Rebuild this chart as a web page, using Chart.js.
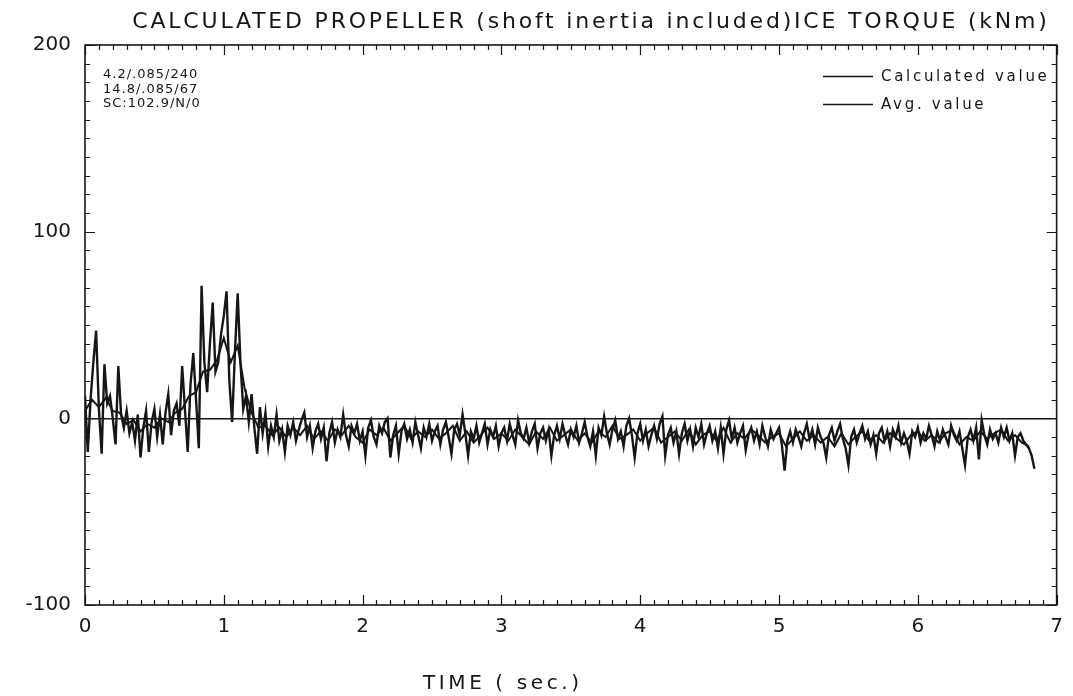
<!DOCTYPE html>
<html>
<head>
<meta charset="utf-8">
<title>Ice torque</title>
<script src="https://cdn.jsdelivr.net/npm/chart.js@4/dist/chart.umd.min.js"></script>
<style>
html, body { margin: 0; padding: 0; background: #fff; }
#wrap { width: 1073px; height: 696px; position: relative; }
</style>
</head>
<body>
<div id="wrap"><canvas id="torque"></canvas></div>
<script>
// propeller ice torque, kNm, sampled every calcStep / avgStep seconds
var calcStep = 0.02;
var calcValue = [
  12, -18, 10, 30, 47, 5, -19, 29, 8, 12,
  0, -14, 28, 2, -5, 4, -8, -2, -12, 2,
  -21, -5, 4, -18, -2, 5, -10, 2, -14, 3,
  13, -9, 4, 8, -4, 28, 5, -18, 18, 35,
  10, -16, 71, 30, 14, 40, 62, 25, 30, 45,
  55, 68, 20, -2, 35, 67, 30, 5, 12, -2,
  13, -5, -19, 6, -8, 3, -15, -4, -10, 2,
  -12,
  -6, -18, -4, -9, -2, -12, -6, -1, 3, -10,
  -4, -16, -7, -3, -11, -5, -23, -8, -2, -13,
  -6, -10, 2, -9, -15, -4, -8, -3, -12, -7,
  -20, -5, -1, -10, -14, -4, -8, -2, 0, -21,
  -9, -4, -19, -7, -3, -11, -6, -13, -2, -9,
  -16, -5, -10, -3, -12, -7, -4, -14, -6, -2,
  -10, -19, -6, -3, -9, 2, -8, -20, -7, -11,
  -4, -13, -8, -3, -14, -6, -10, -4, -15, -8,
  -5, -12, -3, -9, -14, -1, -8, -11, -5, -13,
  -7, -3, -16, -8, -5, -12, -6, -20, -9, -4,
  -11, -3, -9, -14, -6, -10, -4, -13, -8, -2,
  -10, -15, -7, -20, -5, -9, 1, -8, -14, -6,
  -1, -11, -7, -15, -4, 0, -9, -21, -8, -3,
  -12, -6, -15, -9, -4, -11, -3, 1, -20, -9,
  -5, -13, -7, -19, -8, -3, -12, -6, -15, -5,
  -10, -3, -14, -8, -4, -12, -7, -16, -5, -19,
  -6, -1, -11, -5, -13, -8, -4, -17, -9, -5,
  -12, -7, -14, -4, -10, -15, -6, -11, -8, -5,
  -14, -28, -12, -7, -13, -6, -10, -15, -8, -3,
  -11, -6, -14, -5, -10, -13, -21, -9, -5, -12,
  -7, -3, -11, -16, -25, -10, -6, -13, -8, -4,
  -11, -7, -14, -9, -19, -8, -5, -12, -7, -15,
  -6, -10, -4, -13, -8, -12, -19, -7, -10, -5,
  -13, -8, -11, -4, -9, -15, -7, -12, -6, -10,
  -14, -4, -9, -12, -7, -16, -25, -10, -6, -12,
  -5, -22, -1, -9, -14, -6, -11, -8, -13, -5,
  -10, -5, -12, -8, -20, -10, -8, -12, -14, -16,
  -20, -27
];

var avgStep = 0.05;
var avgValue = [
  4, 10, 6, 11, 4, 3, -3, -1, -7, -3,
  -5, 0, -2, 3, 5, 12, 14, 25, 26, 31,
  43, 30, 39, 16, 3, -5, -4, -9, -5, -10,
  -5, -9, -4, -11, -7, -12, -6, -9, -4, -10,
  -13, -6, -9, -5, -12, -8, -4, -11, -7, -10,
  -6, -11, -8, -4, -12, -7, -13, -9, -5, -11,
  -8, -12, -6, -10, -14, -7, -11, -5, -12, -9,
  -6, -12, -8, -13, -7, -10, -4, -11, -9, -6,
  -12, -8, -5, -13, -10, -7, -12, -6, -14, -9,
  -7, -12, -5, -13, -8, -11, -6, -9, -13, -10,
  -8, -15, -11, -7, -12, -9, -13, -10, -15, -8,
  -14, -10, -7, -12, -9, -13, -8, -11, -14, -9,
  -7, -12, -9, -13, -8, -6, -14, -10, -12, -7,
  -11, -8, -6, -12, -9, -13, -15
];

var timeTicks = [0, 1, 2, 3, 4, 5, 6, 7];
var torqueTicks = [-100, 0, 100, 200];

var notes = ['4.2/.085/240', '14.8/.085/67', 'SC:102.9/N/0'];
var titleText = 'CALCULATED PROPELLER (shoft inertia included)ICE TORQUE (kNm)';
var xTitle = 'TIME ( sec.)';

var ink = '#161616';
var FONT = '"DejaVu Sans", sans-serif';

function toPoints(vals, step) {
  return vals.map(function (v, i) { return { x: +(i * step).toFixed(3), y: v }; });
}

// frame, inward tick marks, labels and the little legend
var plotDecor = {
  id: 'plotDecor',
  afterDraw: function (chart) {
    var c = chart.ctx, a = chart.chartArea;
    var xs = chart.scales.x, ys = chart.scales.y;
    c.save();
    c.strokeStyle = ink;
    c.lineWidth = 1.6;
    c.strokeRect(a.left, a.top, a.right - a.left, a.bottom - a.top);

    c.lineWidth = 1.2;
    c.beginPath();
    for (var i = 0; i <= 70; i++) {
      var px = Math.round(xs.getPixelForValue(i / 10)) + 0.5;
      var len = i % 10 === 0 ? 10 : 5;
      c.moveTo(px, a.bottom); c.lineTo(px, a.bottom - len);
      c.moveTo(px, a.top); c.lineTo(px, a.top + len);
    }
    for (var v = -100; v <= 200; v += 10) {
      var py = Math.round(ys.getPixelForValue(v)) + 0.5;
      var l = v % 100 === 0 ? 10 : 5;
      c.moveTo(a.left, py); c.lineTo(a.left + l, py);
      c.moveTo(a.right, py); c.lineTo(a.right - l, py);
    }
    c.stroke();

    c.fillStyle = ink;
    c.textBaseline = 'alphabetic';

    c.font = '22px ' + FONT;
    c.letterSpacing = '2.8px';
    c.textAlign = 'center';
    c.fillText(titleText, 591, 28);

    c.font = '20px ' + FONT;
    c.letterSpacing = '3.6px';
    c.textAlign = 'left';
    c.fillText(xTitle, 423, 689);

    c.font = '13px ' + FONT;
    c.letterSpacing = '1px';
    notes.forEach(function (t, k) { c.fillText(t, 103, 78 + k * 14.5); });

    c.font = '15px ' + FONT;
    c.letterSpacing = '2.7px';
    c.lineWidth = 1.3;
    chart.data.datasets.forEach(function (ds, k) {
      var y = 76 + k * 28;
      c.strokeStyle = ds.borderColor;
      c.beginPath(); c.moveTo(823, y + 0.5); c.lineTo(873, y + 0.5); c.stroke();
      c.fillText(ds.label, 881, y + 5);
    });
    c.restore();
  }
};

new Chart(document.getElementById('torque'), {
  type: 'line',
  data: {
    datasets: [
      {
        label: 'Calculated value',
        data: toPoints(calcValue, calcStep),
        borderColor: ink,
        borderWidth: 2.4,
        pointRadius: 0,
        tension: 0
      },
      {
        label: 'Avg. value',
        data: toPoints(avgValue, avgStep),
        borderColor: ink,
        borderWidth: 2,
        pointRadius: 0,
        tension: 0
      }
    ]
  },
  options: {
    responsive: true,
    maintainAspectRatio: false,
    animation: false,
    layout: { padding: { top: 45, right: 8, left: 0, bottom: 0 } },
    plugins: { legend: { display: false }, title: { display: false }, tooltip: { enabled: false } },
    scales: {
      x: {
        type: 'linear',
        min: 0,
        max: 7,
        afterBuildTicks: function (s) { s.ticks = timeTicks.map(function (v) { return { value: v }; }); },
        afterFit: function (s) { s.height = 91; },
        grid: { display: false, drawTicks: false },
        border: { display: false },
        ticks: { color: ink, font: { family: FONT, size: 20 }, padding: 10, maxRotation: 0 }
      },
      y: {
        min: -100,
        max: 200,
        afterBuildTicks: function (s) { s.ticks = torqueTicks.map(function (v) { return { value: v }; }); },
        afterFit: function (s) { s.width = 85; },
        grid: {
          drawTicks: false,
          lineWidth: 1.6,
          color: function (ctx) { return ctx.tick && ctx.tick.value === 0 ? ink : 'transparent'; }
        },
        border: { display: false },
        ticks: { color: ink, font: { family: FONT, size: 20 }, padding: 14 }
      }
    }
  },
  plugins: [plotDecor]
});
</script>
</body>
</html>
